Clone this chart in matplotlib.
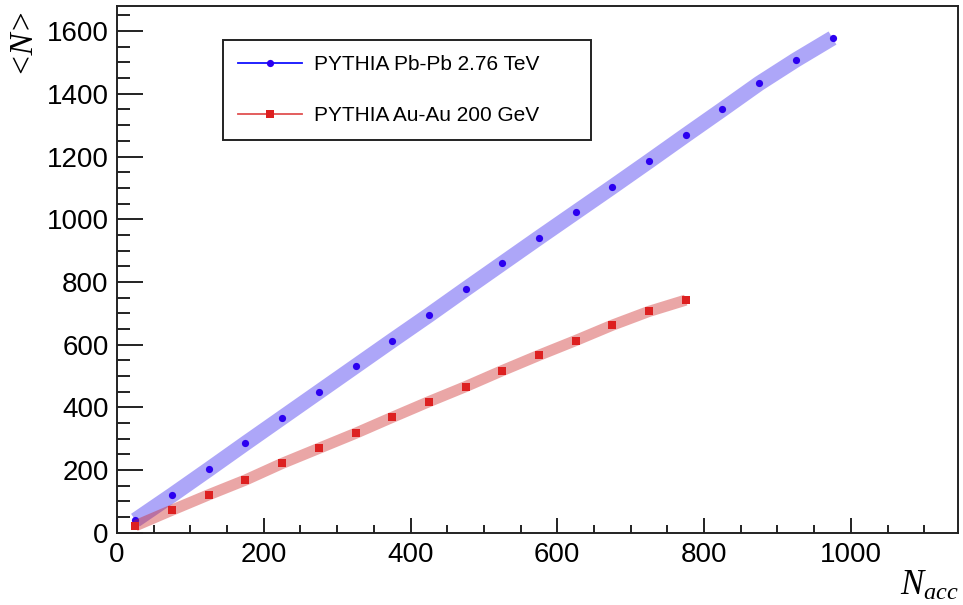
import numpy as np
import matplotlib
matplotlib.use('Agg')
from matplotlib import pyplot as plt
from matplotlib.lines import Line2D

'''Mean multiplicity vs accepted particles'''
n_acc_pb = [25, 75, 125, 175, 225, 275, 325, 375, 425, 475,
            525, 575, 625, 675, 725, 775, 825, 875, 925, 975]
mean_n_pb = [40, 120, 202, 285, 367, 449, 531, 613, 694, 777,
             859, 941, 1022, 1103, 1185, 1268, 1350, 1433, 1508, 1578]

n_acc_au = [25, 75, 125, 175, 225, 275, 325, 375, 425, 475,
            525, 575, 625, 675, 725, 775]
mean_n_au = [22, 72, 121, 168, 221, 269, 317, 368, 418, 466,
             517, 566, 613, 662, 706, 742]

label_pb = 'PYTHIA Pb-Pb 2.76 TeV'
label_au = 'PYTHIA Au-Au 200 GeV'

plt.rcParams['font.family'] = ['Liberation Sans', 'DejaVu Sans']
plt.rcParams['mathtext.fontset'] = 'custom'
plt.rcParams['mathtext.it'] = 'Liberation Serif:italic'
plt.rcParams['mathtext.rm'] = 'Liberation Serif'

fig = plt.figure(figsize=(9.63, 6.05), dpi=100)
ax = fig.add_axes([0.1215, 0.1195, 0.8733, 0.8705])

blue_band = '#3322ee'
red_band = '#cc2222'
blue_mark = '#2b00f0'
red_mark = '#dd2020'

# wide bands first, then the points on top
ax.plot(n_acc_pb, mean_n_pb, color=blue_band, alpha=0.4, lw=11,
        solid_capstyle='butt', solid_joinstyle='round', zorder=2)
ax.plot(n_acc_pb, mean_n_pb, 'o', color=blue_mark, ms=5.2, mew=0, zorder=3)
ax.plot(n_acc_au, mean_n_au, color=red_band, alpha=0.4, lw=8,
        solid_capstyle='butt', solid_joinstyle='round', zorder=4)
ax.plot(n_acc_au, mean_n_au, 's', color=red_mark, ms=5.2, mew=0, zorder=5)

ax.set_xlim(0, 1146)
ax.set_ylim(0, 1680)
ax.set_xticks(np.arange(0, 1001, 200))
ax.set_xticks(np.arange(0, 1146, 50), minor=True)
ax.set_yticks(np.arange(0, 1601, 200))
ax.set_yticks(np.arange(0, 1680, 50), minor=True)

for s in ax.spines.values():
    s.set_linewidth(1.4)
    s.set_color('#222222')

ax.tick_params(axis='both', which='both', direction='in', color='#222222',
               width=1.4, labelsize=20, top=False, right=False)
ax.tick_params(axis='x', which='major', length=11, pad=7)
ax.tick_params(axis='x', which='minor', length=5.5)
ax.tick_params(axis='y', which='major', length=19, pad=6)
ax.tick_params(axis='y', which='minor', length=9.5)

fig.text(0.9955, 0.005, r'$N_{acc}$', fontsize=25, ha='right', va='bottom')
fig.text(0.022, 0.99, '<N>', fontsize=24, family='Liberation Serif',
         style='italic', rotation=90, ha='center', va='top')

handles = [
    Line2D([], [], color='#1010ff', lw=1.3, marker='o', ms=5.2, mew=0,
           markerfacecolor=blue_mark),
    Line2D([], [], color='#e05050', lw=1.3, marker='s', ms=5.2, mew=0,
           markerfacecolor=red_mark),
]
leg = ax.legend(handles, [label_pb, label_au], loc='upper left',
                bbox_to_anchor=(0.2313, 0.7719, 0.3821, 0.162),
                bbox_transform=fig.transFigure, mode='expand',
                borderaxespad=0, fontsize=15, fancybox=False, framealpha=1,
                edgecolor='#222222', handlelength=3.1, handletextpad=0.55,
                borderpad=0.72, labelspacing=1.55)
leg.get_frame().set_linewidth(1.4)

fig.savefig('out.png', dpi=100)
